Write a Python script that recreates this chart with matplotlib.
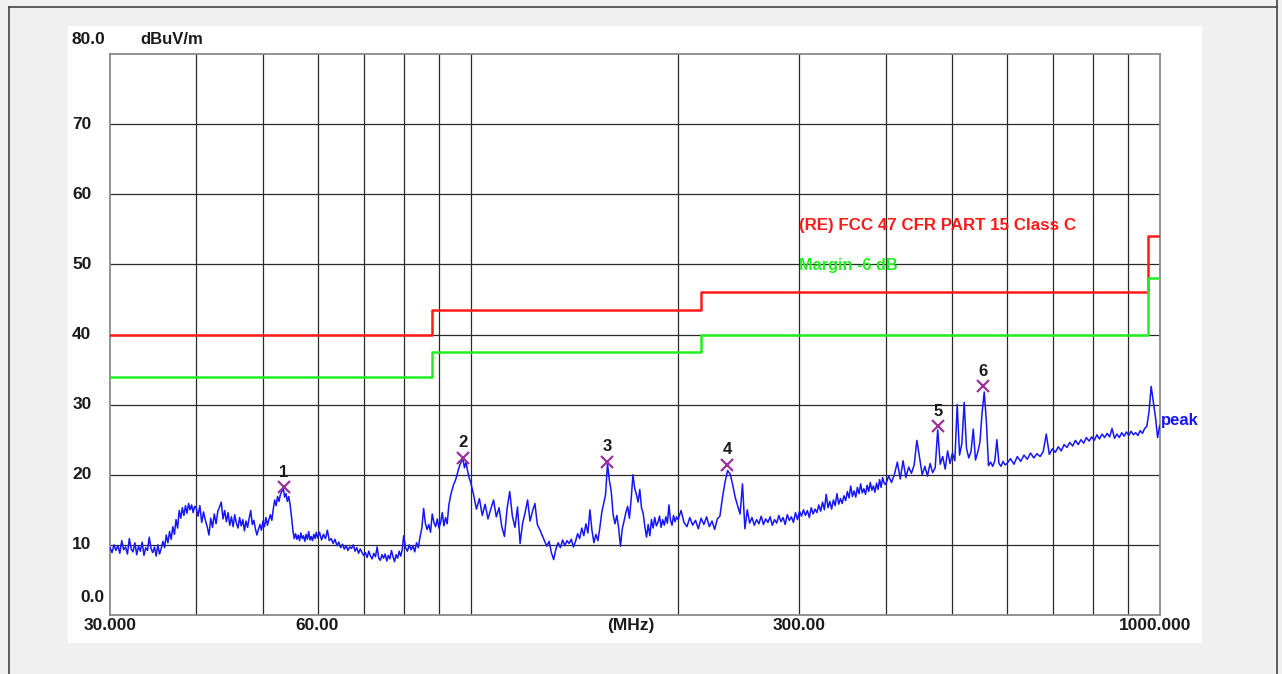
import matplotlib
matplotlib.use("Agg")
import matplotlib.pyplot as plt
import matplotlib.patches as patches
import numpy as np

plt.rcParams['font.family'] = ['Liberation Sans', 'DejaVu Sans']
plt.rcParams['font.weight'] = 'bold'

# ---- measured trace (peak detector), MHz / dBuV/m ----
f_a = [30.0, 30.2, 30.4, 30.6, 30.8, 31.0, 31.2, 31.4, 31.6, 31.8, 32.0, 32.2, 32.4, 32.6, 32.8,
       33.0, 33.2, 33.4, 33.6, 33.8, 34.0, 34.2, 34.4, 34.6, 34.8, 35.0, 35.2, 35.4, 35.6, 35.8,
       36.0, 36.2, 36.4, 36.6, 36.8, 37.0, 37.2, 37.4, 37.6, 37.8, 38.0, 38.2, 38.4, 38.6, 38.8,
       39.0, 39.2, 39.4, 39.6, 39.8]
lv_a = [9.6, 8.9, 10.0, 9.2, 9.9, 8.8, 10.6, 9.3, 9.7, 8.7, 10.9, 9.4, 9.0, 10.3, 8.6,
        9.8, 9.1, 10.4, 8.5, 9.6, 9.2, 11.1, 9.5, 8.9, 9.7, 8.4, 10.0, 8.7, 9.5, 10.5,
        9.6, 11.4, 10.3, 11.9, 10.8, 12.6, 11.5, 13.6, 12.4, 14.9, 13.8, 15.3, 14.2, 15.6, 14.5,
        15.9, 15.0, 15.7, 14.6, 15.5]

f_b = [40.00, 40.25, 40.50, 40.75, 41.00, 41.25, 41.50, 41.75, 42.00, 42.25, 42.50, 42.75,
       43.00, 43.25, 43.50, 43.75, 44.00, 44.25, 44.50, 44.75, 45.00, 45.25, 45.50, 45.75,
       46.00, 46.25, 46.50, 46.75, 47.00, 47.25, 47.50, 47.75, 48.00, 48.25, 48.50, 48.75,
       49.00, 49.25, 49.50, 49.75, 50.00, 50.25, 50.50, 50.75, 51.00, 51.25, 51.50, 51.75,
       52.00, 52.25, 52.50, 52.75, 53.00, 53.25, 53.50, 53.75, 54.00, 54.25, 54.50, 54.75,
       55.00, 55.25, 55.50, 55.75, 56.00, 56.25, 56.50, 56.75, 57.00, 57.25, 57.50, 57.75,
       58.00, 58.25, 58.50, 58.75, 59.00, 59.25, 59.50, 59.75]
lv_b = [15.3, 14.1, 15.6, 13.2, 14.7, 13.5, 12.6, 11.4, 13.8, 12.5, 14.4, 13.0,
        14.8, 15.4, 16.1, 13.7, 14.9, 13.3, 14.6, 12.8, 14.0, 12.6, 14.3, 13.1,
        12.4, 13.9, 12.7, 13.6, 12.0, 13.4, 12.5, 13.8, 14.9, 12.9, 13.5, 12.3,
        11.4, 12.2, 12.9, 12.1, 13.4, 12.6, 13.9, 12.8, 13.6, 14.3, 13.5, 15.1,
        16.4, 15.6, 16.9, 16.2, 17.2, 17.6, 18.1, 16.8, 17.3, 16.2, 16.9, 15.7,
        14.0, 12.1, 10.9, 11.6, 10.8, 11.4, 10.6, 11.7, 10.9, 11.3, 10.5, 11.5,
        10.8, 11.9, 10.7, 11.2, 10.6, 11.5, 10.9, 11.8]

f_c = [60.0, 60.4, 60.8, 61.2, 61.6, 62.0, 62.4, 62.8, 63.2, 63.6, 64.0, 64.4, 64.8, 65.2,
       65.6, 66.0, 66.4, 66.8, 67.2, 67.6, 68.0, 68.4, 68.8, 69.2, 69.6, 70.0, 70.4, 70.8,
       71.2, 71.6, 72.0, 72.4, 72.8, 73.2, 73.6, 74.0, 74.4, 74.8, 75.2, 75.6, 76.0, 76.4,
       76.8, 77.2, 77.6, 78.0, 78.4, 78.8, 79.2, 79.6,
       80.0, 80.5, 81.0, 81.5, 82.0, 82.5, 83.0, 83.5, 84.0, 84.5, 85.0, 85.5, 86.0, 86.5,
       87.0, 87.5, 88.0, 88.5, 89.0, 89.5, 90.0, 90.5, 91.0, 91.5, 92.0, 92.5, 93.0, 93.5,
       94.0, 94.5, 95.0, 95.5, 96.0, 96.5, 97.0, 97.5, 98.0, 98.5, 99.0, 99.5]
lv_c = [11.0, 11.8, 10.7, 11.5, 10.9, 12.1, 10.6, 10.9, 10.2, 10.8, 9.9, 10.4, 9.6, 10.1,
        9.4, 9.9, 9.2, 9.7, 9.5, 10.0, 9.1, 9.6, 8.8, 9.4, 8.9, 8.5, 8.9, 8.2,
        9.1, 8.4, 8.0, 8.8, 8.3, 9.7, 8.1, 7.8, 8.6, 8.1, 8.7, 7.7, 8.5, 8.0,
        9.2, 8.3, 7.6, 8.6, 8.1, 9.1, 8.4, 9.3,
        11.3, 9.6, 9.1, 10.0, 9.3, 9.9, 9.0, 10.3, 9.6, 11.2, 12.4, 15.2, 13.1, 12.2,
        12.9, 11.8, 14.4, 13.2, 12.6, 13.7, 12.4, 13.2, 14.6, 12.7, 13.9, 13.0, 15.6, 16.9,
        17.8, 18.6, 19.1, 19.8, 20.7, 21.4, 21.9, 22.2, 21.0, 21.8, 20.6, 19.6]

f_d = [100, 101, 102, 103, 104, 105, 106, 107, 108, 109, 110, 111, 112, 113, 114, 115,
       116, 117, 118, 119, 120, 121, 122, 123, 124, 125, 126, 127, 128, 129, 130, 131,
       132, 133, 134, 135, 136, 137, 138, 139, 140, 141, 142, 143, 144, 145, 146, 147,
       148, 149, 150, 151, 152, 153, 154, 155, 156, 157, 158, 159, 160, 161, 162, 163,
       164, 165, 166, 167, 168, 169, 170, 171, 172, 173, 174, 175, 176, 177, 178, 179,
       180, 181, 182, 183, 184, 185, 186, 187, 188, 189, 190, 191, 192, 193, 194, 195,
       196, 197, 198, 199]
lv_d = [19.0, 17.2, 15.1, 16.6, 14.2, 15.8, 13.7, 15.1, 16.4, 14.0, 15.3, 12.6, 11.2, 15.2, 17.6, 14.1,
        12.5, 15.4, 10.2, 13.1, 14.6, 16.4, 13.4, 14.8, 15.9, 12.9, 12.2, 11.4, 10.6, 9.8, 10.5, 8.9,
        7.9, 9.4, 10.3, 9.6, 10.7, 9.9, 10.6, 10.2, 10.8, 9.7, 10.5, 11.6, 10.9, 12.4, 11.3, 13.0,
        11.7, 15.0, 12.1, 10.3, 11.5, 10.6, 12.4, 14.6, 15.9, 17.2, 21.6, 19.2, 17.6, 14.3, 13.0, 14.2,
        12.4, 9.8, 12.3, 13.4, 14.6, 15.5, 13.8, 16.5, 20.0, 18.1, 17.2, 16.1, 17.9, 15.3, 14.5, 12.6,
        11.1, 12.9, 11.3, 13.6, 12.4, 13.9, 12.7, 13.2, 14.1, 12.5, 13.6, 12.8, 14.0, 13.1, 15.7, 13.5,
        12.8, 14.2, 13.3, 14.0]

f_e = [200, 202, 204, 206, 208, 210, 212, 214, 216, 218, 220, 222, 224, 226, 228, 230,
       232, 234, 236, 238, 240, 242, 244, 246, 248, 250, 252, 254, 256, 258, 260, 262,
       264, 266, 268, 270, 272, 274, 276, 278, 280, 282, 284, 286, 288, 290, 292, 294,
       296, 298, 300, 302, 304, 306, 308, 310, 312, 314, 316, 318, 320, 322, 324, 326,
       328, 330, 332, 334, 336, 338, 340, 342, 344, 346, 348, 350, 352, 354, 356, 358,
       360, 362, 364, 366, 368, 370, 372, 374, 376, 378, 380, 382, 384, 386, 388, 390,
       392, 394, 396, 398]
lv_e = [13.6, 14.9, 13.2, 12.6, 13.9, 12.8, 13.5, 12.3, 13.8, 12.9, 14.0, 12.6, 13.4, 12.2, 13.7, 14.1,
        16.8, 19.0, 20.6, 20.1, 18.6, 16.8, 15.6, 14.4, 18.7, 12.3, 15.0, 13.1, 13.9, 12.8, 13.6, 13.0,
        14.1, 12.9, 13.7, 13.2, 14.0, 12.8, 13.6, 13.1, 14.2, 13.3, 13.9, 12.9, 14.3, 13.5, 14.0, 13.2,
        14.6, 13.6, 14.8, 14.1, 15.0, 14.2, 14.9, 13.9, 15.3, 14.4, 15.1, 14.6, 15.7, 14.8, 16.1, 15.0,
        17.2, 15.3, 16.2, 15.1, 16.4, 15.6, 17.3, 15.8, 16.6, 15.9, 17.0, 16.3, 17.6, 16.7, 18.4, 16.9,
        17.7, 16.8, 18.2, 17.3, 18.7, 17.4, 18.0, 17.2, 18.5, 17.6, 18.9, 17.8, 18.4, 17.5, 18.8, 17.9,
        19.3, 18.2, 19.6, 18.8]

f_f = [400, 404, 408, 412, 416, 420, 424, 428, 432, 436, 440, 444, 448, 452, 456, 460,
       464, 468, 472, 476, 480, 484, 488, 492, 496, 500, 504, 508, 512, 516, 520, 524,
       528, 532, 536, 540, 544, 548, 552, 556, 560, 564, 568, 572, 576, 580, 584, 588,
       592, 596]
lv_f = [18.6, 19.8, 18.9, 20.1, 21.8, 19.4, 22.0, 19.6, 21.1, 20.2, 21.4, 24.9, 22.4, 20.0, 21.2, 19.8,
        21.6, 20.3, 21.0, 26.4, 21.5, 22.6, 20.8, 23.4, 21.6, 23.1, 22.0, 30.0, 22.8, 24.5, 30.3, 23.8,
        22.4, 23.3, 26.5, 22.1, 23.2, 24.6, 28.8, 31.8, 27.6, 21.3, 21.8, 21.2, 22.0, 25.0, 21.6, 21.2,
        21.9, 21.4]

f_g = [600, 607, 614, 621, 628, 635, 642, 649, 656, 663, 670, 677, 684, 691, 698, 705,
       712, 719, 726, 733, 740, 747, 754, 761, 768, 775, 782, 789, 796, 803, 810, 817,
       824, 831, 838, 845, 852, 859, 866, 873, 880, 887, 894, 901, 908, 915, 922, 929,
       936, 943, 950, 957, 964, 971, 978, 985, 992, 999]
lv_g = [21.6, 22.3, 21.5, 22.6, 21.9, 22.8, 22.2, 23.1, 22.4, 23.0, 22.6, 23.3, 25.8, 22.9, 23.7, 23.2,
        24.0, 23.4, 24.3, 23.9, 24.6, 24.1, 24.9, 24.3, 25.0, 24.5, 25.3, 24.8, 25.4, 24.9, 25.7, 25.1,
        25.8, 25.3, 25.9, 25.4, 26.6, 25.2, 25.8, 25.3, 26.0, 25.5, 26.1, 25.6, 26.2, 25.7, 26.0, 25.6,
        26.3, 25.9, 26.6, 26.9, 29.0, 32.6, 30.4, 28.2, 25.3, 27.0]

trace_f = np.array(f_a + f_b + f_c + f_d + f_e + f_f + f_g, dtype=float)
trace_lv = np.array(lv_a + lv_b + lv_c + lv_d + lv_e + lv_f + lv_g, dtype=float)

# limit line FCC class and margin (-6 dB)
lim_f = [30, 88, 216, 960, 1000]
lim_lv = [40.0, 43.5, 46.0, 54.0, 54.0]
margin_db = 6.0

# peak markers
mk_f = [53.6, 97.5, 157.7, 235.5, 476.0, 554.0]
mk_lv = [18.2, 22.4, 21.8, 21.4, 26.9, 32.6]
mk_lbl = ['1', '2', '3', '4', '5', '6']

ytick_vals = [70, 60, 50, 40, 30, 20, 10]

fig = plt.figure(figsize=(12.82, 6.74), dpi=100, facecolor='#f0f0f0')
fig.patches.append(patches.Rectangle((68/1282, 1-643/674), (1202-68)/1282, (643-26)/674,
                                     transform=fig.transFigure, facecolor='white',
                                     edgecolor='none', zorder=-10))
# outer window frame
fig.add_artist(plt.Line2D([9/1282, 9/1282], [0, 1-7/674], transform=fig.transFigure, color='#444444', lw=1.2))
fig.add_artist(plt.Line2D([9/1282, 1277/1282], [1-7/674, 1-7/674], transform=fig.transFigure, color='#444444', lw=1.2))
fig.add_artist(plt.Line2D([1277/1282, 1277/1282], [0, 1], transform=fig.transFigure, color='#444444', lw=1.2))

ax = fig.add_axes([110/1282, 1-615/674, 1050/1282, 561/674])
ax.set_zorder(2)
ax.set_xscale('log')
ax.set_xlim(30, 1000)
ax.set_ylim(0, 80)
ax.set_facecolor('white')

# grid
for gx in [40, 50, 60, 70, 80, 90, 100, 200, 300, 400, 500, 600, 700, 800, 900]:
    ax.axvline(gx, color='#2a2a2a', lw=0.9, zorder=1)
for gy in ytick_vals:
    ax.axhline(gy, color='#2a2a2a', lw=0.9, zorder=1)
for s in ax.spines.values():
    s.set_color('#8a8a8a')
    s.set_linewidth(1.3)
ax.set_xticks([])
ax.set_yticks([])
ax.minorticks_off()
ax.tick_params(which='both', length=0, labelbottom=False, labelleft=False)

# limits
ax.step(lim_f, lim_lv, where='post', color='#ff1a1a', lw=1.8, zorder=3)
ax.step(lim_f, [v - margin_db for v in lim_lv], where='post', color='#22ee22', lw=1.8, zorder=3)

# trace
ax.plot(trace_f, trace_lv, color='#1515ff', lw=1.1, zorder=4)

# markers
ax.plot(mk_f, mk_lv, 'x', color='#993399', ms=8, mew=1.6, zorder=5)
for f, v, t in zip(mk_f, mk_lv, mk_lbl):
    ax.annotate(t, (f, v), xytext=(0, 11), textcoords='offset points', ha='center',
                va='center', fontsize=12, color='#1a1a1a', zorder=6)

ax.text(300, 55.6, '(RE) FCC 47 CFR PART 15 Class C', color='#ff1a1a', fontsize=12.2,
        ha='left', va='center', zorder=6)
ax.text(300, 49.9, 'Margin -6 dB', color='#22ee22', fontsize=11.7, ha='left', va='center', zorder=6)
ax.text(1003, 27.8, 'peak', color='#1515ff', fontsize=12, ha='left', va='center', clip_on=False)

# axis labels
yt = ax.get_yaxis_transform()
for v in ytick_vals:
    ax.text(-0.036, v, str(v), transform=yt, ha='left', va='center', fontsize=12.5, color='#1a1a1a')
ax.text(-0.037, 82.0, '80.0', transform=yt, ha='left', va='center', fontsize=12.5, color='#1a1a1a')
ax.text(-0.028, 2.5, '0.0', transform=yt, ha='left', va='center', fontsize=12.5, color='#1a1a1a')
ax.text(0.029, 82.0, 'dBuV/m', transform=yt, ha='left', va='center', fontsize=12, color='#1a1a1a')

xt = ax.get_xaxis_transform()
for f, t in [(30, '30.000'), (60, '60.00'), (171, '(MHz)'), (300, '300.00'), (985, '1000.000')]:
    ax.text(f, -0.018, t, transform=xt, ha='center', va='center', fontsize=12.5, color='#1a1a1a')

fig.savefig('out.png', dpi=100, facecolor=fig.get_facecolor())
